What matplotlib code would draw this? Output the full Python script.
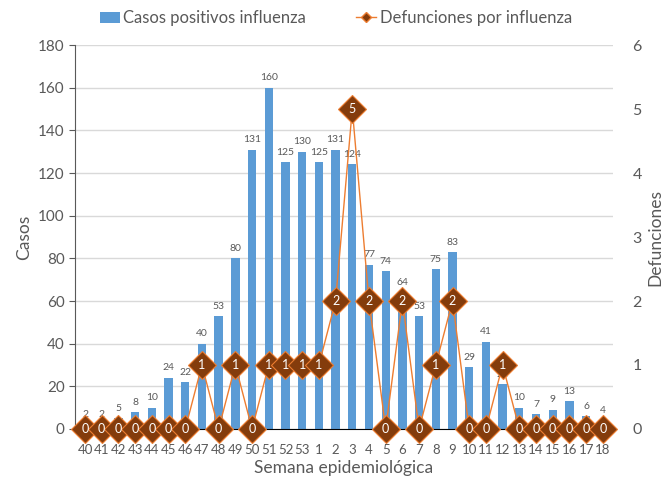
import numpy as np
import matplotlib
matplotlib.use("Agg")
from matplotlib import pyplot as plt

plt.rcParams['font.family'] = ['Lato', 'DejaVu Sans']

semanas = [str(w) for w in range(40, 54)] + [str(w) for w in range(1, 19)]
casos = [2, 2, 5, 8, 10, 24, 22, 40, 53, 80, 131, 160, 125, 130, 125, 131, 124,
         77, 74, 64, 53, 75, 83, 29, 41, 21, 10, 7, 9, 13, 6, 4]
defunciones = [0, 0, 0, 0, 0, 0, 0, 1, 0, 1, 0, 1, 1, 1, 1, 2, 5,
               2, 0, 2, 0, 1, 2, 0, 0, 1, 0, 0, 0, 0, 0, 0]

gris = '#595959'
x = np.arange(len(semanas))

fig = plt.figure(figsize=(6.72, 4.79), dpi=100)
ax = fig.add_axes([0.1116, 0.1044, 0.8004, 0.8016])
ax2 = ax.twinx()

bars = ax.bar(x, casos, width=0.5, color='#5B9BD5', zorder=2, label='Casos positivos influenza')
for xi, v in zip(x, casos):
    ax.text(xi, v + 2.5, str(v), ha='center', va='bottom', fontsize=7.5, color=gris, zorder=3)

ax.set_ylim(0, 180)
ax.set_yticks(np.arange(0, 181, 20))
ax.set_xlim(-0.6, len(semanas) - 0.4)
ax.set_xticks(x)
ax.set_xticklabels(semanas)
ax.grid(axis='y', color='#d9d9d9', linewidth=1, zorder=0)
ax.set_axisbelow(True)
ax.tick_params(axis='y', colors=gris, labelsize=11, length=4, direction='out')
ax.tick_params(axis='x', colors=gris, labelsize=9.5, length=0, pad=11)
ax.set_ylabel('Casos', color=gris, fontsize=12.5)
ax.set_xlabel('Semana epidemiológica', color=gris, fontsize=12.5, labelpad=3)
for s in ['top', 'right']:
    ax.spines[s].set_visible(False)
ax.spines['left'].set_color(gris)
ax.spines['bottom'].set_color('black')

line, = ax2.plot(x, defunciones, color='#ED7D31', linewidth=1, marker='D', markersize=14,
                 markerfacecolor='#843C0C', markeredgecolor='#ED7D31', markeredgewidth=0.8,
                 label='Defunciones por influenza', zorder=4, clip_on=False)
for xi, v in zip(x, defunciones):
    ax2.text(xi, v, str(v), ha='center', va='center', fontsize=9, color='white', zorder=5)
ax2.set_ylim(0, 6)
ax2.set_yticks(range(0, 7))
ax2.tick_params(axis='y', colors=gris, labelsize=11.5, length=0, pad=14)
ax2.set_ylabel('Defunciones', color=gris, fontsize=12.5, labelpad=4)
for s in ax2.spines.values():
    s.set_visible(False)

leg_line, = ax.plot([], [], color='#ED7D31', linewidth=1, marker='D', markersize=5,
                    markerfacecolor='#843C0C', markeredgecolor='#ED7D31', label='Defunciones por influenza')
fig.legend(handles=[bars, leg_line], loc='upper center', bbox_to_anchor=(0.5, 1.01), ncol=2,
           frameon=False, fontsize=12, labelcolor=gris, handlelength=1.2, handletextpad=0.2,
           columnspacing=3)

fig.savefig('out.png', dpi=100)
